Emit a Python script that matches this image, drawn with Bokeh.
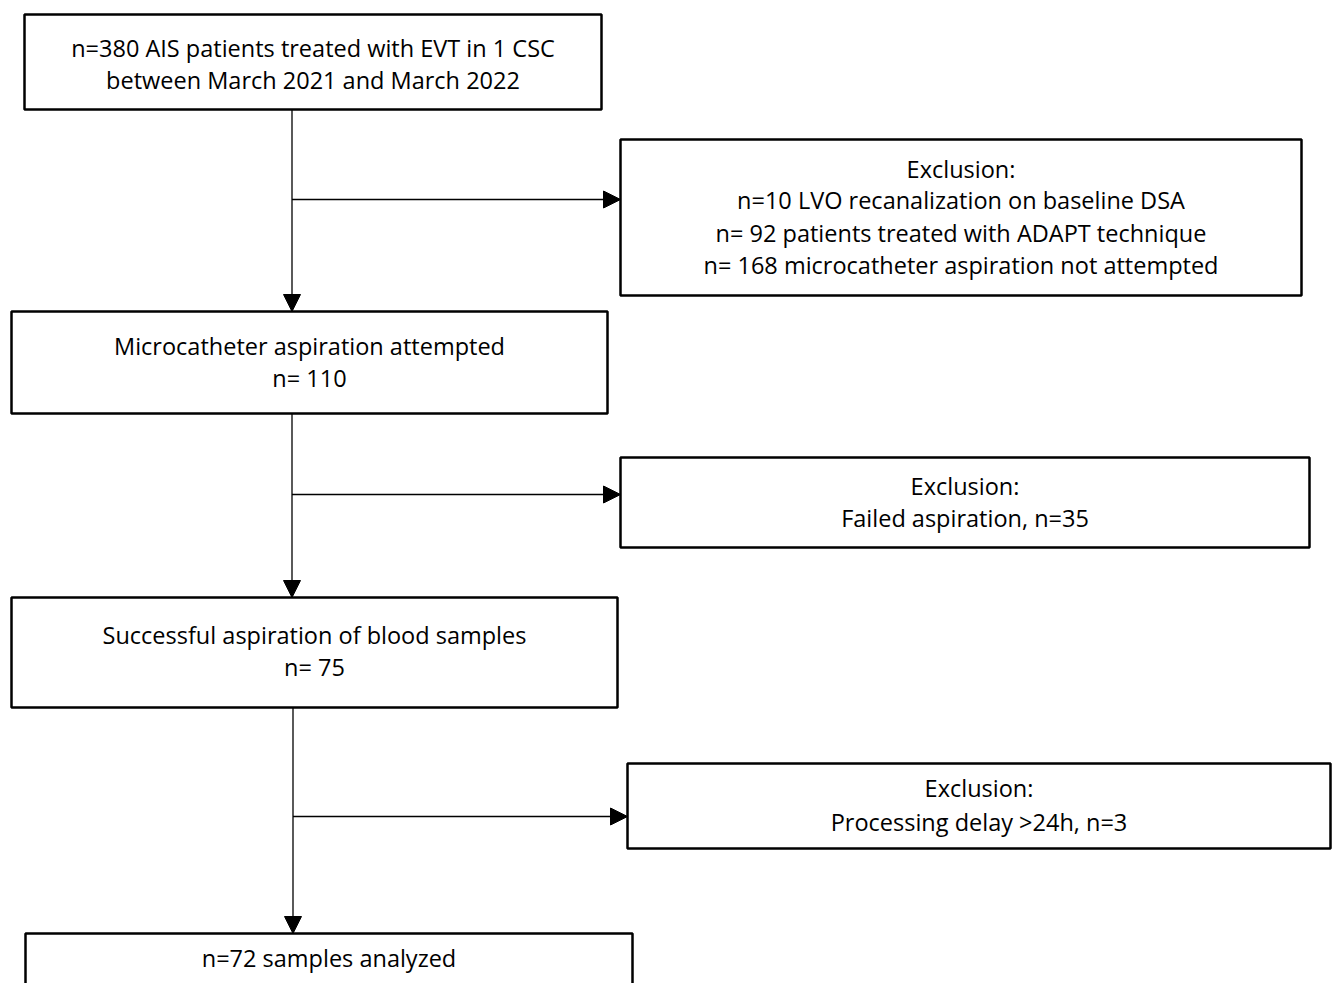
from bokeh.plotting import figure
from bokeh.models import Range1d, Arrow, NormalHead
from bokeh.core.properties import value
from bokeh.embed import file_html
from bokeh.resources import INLINE

# ---- data (text content of the flowchart) ----
main_titles = ["n=380 AIS patients treated with EVT in 1 CSC",
               "Microcatheter aspiration attempted",
               "Successful aspiration of blood samples",
               "n=72 samples analyzed"]
main_subtitles = ["between March 2021 and March 2022", "n= 110", "n= 75", ""]
excl_header = "Exclusion:"
excl_lines = [["n=10 LVO recanalization on baseline DSA",
               "n= 92 patients treated with ADAPT technique",
               "n= 168 microcatheter aspiration not attempted"],
              ["Failed aspiration, n=35"],
              ["Processing delay >24h, n=3"]]

# ---- layout (pixel coordinates, y downwards) ----
FONT = "Open Sans"
FS = "23.5px"
W, H = 1336, 983
p = figure(width=W, height=H, output_backend="svg", toolbar_location=None,
           x_range=Range1d(0, W), y_range=Range1d(H, 0),
           min_border=0)
p.axis.visible = False
p.grid.visible = False
p.outline_line_color = None
p.background_fill_color = "white"
p.border_fill_color = "white"

main_boxes = [(24, 601, 14, 109), (11, 607, 311, 413), (11, 617, 597, 707), (25, 632, 933, 1010)]
excl_boxes = [(620, 1301, 139, 295), (620, 1309, 457, 547), (627, 1330, 763, 848)]

def box(b):
    l, r, t, bt = b
    p.quad(left=[l], right=[r], top=[t], bottom=[bt], fill_color="white",
           line_color="black", line_width=2.5)

for b in main_boxes + excl_boxes:
    box(b)

def txt(x, y, s):
    p.text(x=[x], y=[y], text=[s], text_align="center", text_baseline="middle",
           text_font=value(FONT), text_font_size=FS, text_color="black")

# main box texts
main_text_y = [(47, 79), (345, 377), (634, 666), (957, None)]
for b, (y1, y2), t1, t2 in zip(main_boxes, main_text_y, main_titles, main_subtitles):
    cx = (b[0] + b[1]) / 2
    txt(cx, y1, t1)
    if t2 and y2 is not None:
        txt(cx, y2, t2)

# exclusion texts
excl_text_y = [[168, 199, 232, 264], [485, 517], [787, 821]]
for b, ys, lines in zip(excl_boxes, excl_text_y, excl_lines):
    cx = (b[0] + b[1]) / 2
    for y, s in zip(ys, [excl_header] + lines):
        txt(cx, y, s)

# arrows
def arrow(x0, y0, x1, y1):
    p.add_layout(Arrow(end=NormalHead(size=17, fill_color="black", line_color="black", line_width=1),
                       x_start=x0, y_start=y0, x_end=x1, y_end=y1,
                       line_color="black", line_width=1.3))

vert = [(291.5, 109, 311), (291.5, 413, 597), (292.5, 707, 933)]
branch = [(291.5, 199, 620), (291.5, 494, 620), (292.5, 816, 627)]
for x, y0, y1 in vert:
    arrow(x, y0, x, y1)
for x0, y, x1 in branch:
    arrow(x0, y, x1, y)

open("out.html", "w").write(file_html(p, INLINE))
